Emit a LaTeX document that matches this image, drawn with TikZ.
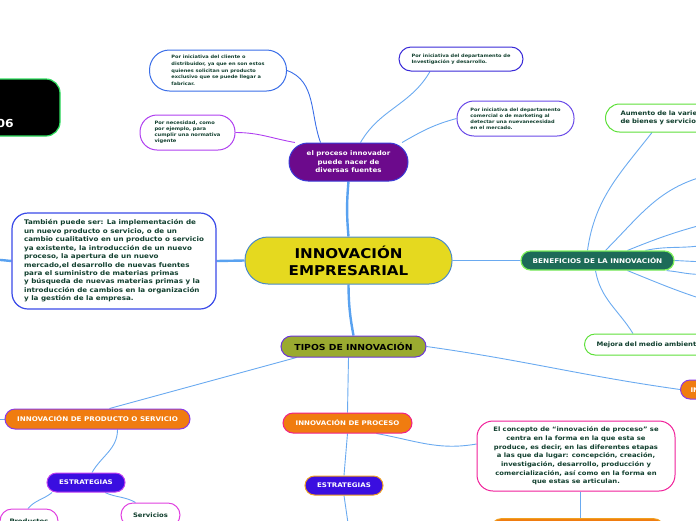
\documentclass[tikz,border=0pt]{standalone}
\usepackage{fontspec}
\setmainfont{DejaVu Sans}[FakeStretch=1.12]
\usetikzlibrary{backgrounds}
\definecolor{tx}{HTML}{12402F}
\definecolor{lnk}{HTML}{6AAAF0}
\definecolor{lnkd}{HTML}{59A2F0}
\definecolor{orng}{HTML}{F07C10}
\definecolor{vio}{HTML}{3A0EE0}
\definecolor{cB}{HTML}{3A6EE8}
\definecolor{cP}{HTML}{B040F0}
\definecolor{cD}{HTML}{3A2AD8}
\definecolor{cM}{HTML}{6A4AE8}
\definecolor{cG}{HTML}{5EE03A}
\definecolor{cPink}{HTML}{F0208A}
\definecolor{cMag}{HTML}{E040E0}
\definecolor{cOr}{HTML}{F0A020}
\definecolor{cBlkB}{HTML}{30E060}
\definecolor{cPur}{HTML}{6C0A8C}
\definecolor{cPurB}{HTML}{3A3AD8}
\definecolor{cYel}{HTML}{E5D91F}
\definecolor{cYelB}{HTML}{4A8AC8}
\definecolor{cLeftB}{HTML}{3A4AE8}
\definecolor{cTeal}{HTML}{1D6B58}
\definecolor{cTealB}{HTML}{7CF05A}
\definecolor{cOlive}{HTML}{9AAA30}
\definecolor{cOliveB}{HTML}{6A34D8}
\definecolor{cOrB}{HTML}{8A3AE8}
\definecolor{cEstB}{HTML}{C040F0}
\definecolor{cConB}{HTML}{F0209A}
\tikzset{
  pill/.style={draw, line width=1pt, inner sep=0pt, align=center},
  bub/.style={pill, fill=white, text=tx, align=left},
  card/.style={draw, rounded corners=16pt, line width=1pt, fill=white, inner sep=0pt, text=tx},
  link/.style={draw=lnk, line width=0.9pt},
  trunk/.style={draw=lnkd, line width=2.4pt},
}
\begin{document}
\begin{tikzpicture}[x=1pt,y=-1pt]
\useasboundingbox (0,0) rectangle (696,520);
\clip (0,0) rectangle (696,520);

% black box
\node[draw=cBlkB, fill=black, rounded corners=14pt, minimum width=160pt, minimum height=57pt, line width=1.2pt] (blk) at (-20,107.5) {};
\node[anchor=base east, text=white, inner sep=0pt, font=\bfseries\fontsize{11}{13}\selectfont] (yr) at (14,127) {06};

% bubbles
\node[bub, draw=cB, rounded corners=20pt, minimum width=137pt, minimum height=41pt, font=\bfseries\fontsize{4.5}{6.8}\selectfont] (b2) at (218,70.5)
  {Por iniciativa del cliente o\\distribuidor, ya que en son estos\\quienes solicitan un producto\\exclusivo que se puede llegar a\\fabricar.};
\node[bub, draw=cP, rounded corners=17pt, minimum width=95pt, minimum height=35pt, font=\bfseries\fontsize{4.6}{6}\selectfont] (b3) at (187.5,132.5)
  {Por necesidad, como\\por ejemplo, para\\cumplir una normativa\\vigente};
\node[bub, draw=cD, rounded corners=12pt, minimum width=124pt, minimum height=24pt, font=\bfseries\fontsize{4.5}{6.3}\selectfont] (b4) at (461,59)
  {Por iniciativa del departamento de\\Investigación y desarrollo.};
\node[bub, draw=cM, rounded corners=17pt, minimum width=117pt, minimum height=35pt, font=\bfseries\fontsize{4.5}{6}\selectfont] (b5) at (515.5,118.5)
  {Por iniciativa del departamento\\comercial o de marketing al\\detectar una nuevanecesidad\\en el mercado.};

\node[pill, fill=cPur, draw=cPurB, rounded corners=19pt, text=white, minimum width=119pt, minimum height=38pt, font=\bfseries\fontsize{6.3}{8.5}\selectfont] (fuentes) at (348.5,162)
  {el proceso innovador\\puede nacer de\\diversas fuentes};

% central
\node[pill, fill=cYel, draw=cYelB, rounded corners=23pt, text=black, minimum width=207pt, minimum height=47pt, font=\bfseries\fontsize{13.5}{17}\selectfont] (central) at (348.5,260.5)
  {INNOVACIÓN\\EMPRESARIAL};

% left card
\node[card, draw=cLeftB, line width=1.2pt, minimum width=204pt, minimum height=96pt, align=left, font=\bfseries\fontsize{6.4}{8.45}\selectfont] (left) at (114,261)
  {También puede ser: La implementación de\\un nuevo producto o servicio, o de un\\cambio cualitativo en un producto o servicio\\ya existente, la introducción de un nuevo\\proceso, la apertura de un nuevo\\mercado,el desarrollo de nuevas fuentes\\para el suministro de materias primas\\y búsqueda de nuevas materias primas y la\\introducción de cambios en la organización\\y la gestión de la empresa.};

% beneficios
\node[pill, fill=cTeal, draw=cTealB, line width=1.2pt, rounded corners=9.5pt, text=white, minimum width=153pt, minimum height=19pt, font=\bfseries\fontsize{6.5}{8}\selectfont] (benef) at (597.5,260.5)
  {BENEFICIOS DE LA INNOVACIÓN};
\node[pill, fill=white, draw=cG, rounded corners=14pt, text=tx, anchor=west, align=left, inner xsep=15pt, text width=150pt, minimum height=28pt, font=\bfseries\fontsize{6.1}{8}\selectfont] (aum) at (605,118)
  {Aumento de la variedad\\de bienes y servicios};
\node[pill, fill=white, draw=cG, rounded corners=10.5pt, text=tx, anchor=west, align=left, inner xsep=12pt, text width=150pt, minimum height=21pt, font=\bfseries\fontsize{6.1}{8}\selectfont] (mej) at (584,344.5)
  {Mejora del medio ambiente};

% tipos
\node[pill, fill=cOlive, draw=cOliveB, rounded corners=10.5pt, text=black, minimum width=145pt, minimum height=21pt, font=\bfseries\fontsize{8.3}{10}\selectfont] (tipos) at (353.5,346.5)
  {TIPOS DE INNOVACIÓN};
\node[pill, fill=orng, draw=cOrB, rounded corners=9.5pt, text=white, anchor=west, align=left, inner xsep=10pt, text width=150pt, minimum height=19pt, font=\bfseries\fontsize{6.4}{8}\selectfont] (orR) at (680,389.5)
  {INNOVACIÓN};

\node[pill, fill=orng, draw=cOrB, rounded corners=10pt, text=white, minimum width=185pt, minimum height=20pt, font=\bfseries\fontsize{6.4}{8}\selectfont] (prod) at (97.5,419)
  {INNOVACIÓN DE PRODUCTO O SERVICIO};
\node[pill, fill=vio, draw=cEstB, rounded corners=9.5pt, text=white, minimum width=78pt, minimum height=19pt, font=\bfseries\fontsize{6.3}{8}\selectfont] (estr1) at (86,482.5)
  {ESTRATEGIAS};
\node[pill, fill=white, draw=cMag, rounded corners=12pt, text=tx, minimum width=58pt, minimum height=24pt, font=\bfseries\fontsize{6.1}{8}\selectfont] (productos) at (29,521)
  {Productos};
\node[pill, fill=white, draw=cMag, rounded corners=12pt, text=tx, minimum width=59pt, minimum height=24pt, font=\bfseries\fontsize{6.1}{8}\selectfont] (servicios) at (150.5,515)
  {Servicios};

\node[pill, fill=orng, draw=cPink, rounded corners=10pt, text=white, minimum width=129pt, minimum height=20pt, font=\bfseries\fontsize{6.3}{8}\selectfont] (proceso) at (347.5,423)
  {INNOVACIÓN DE PROCESO};
\node[pill, fill=vio, draw=cOr, rounded corners=9.5pt, text=white, minimum width=78pt, minimum height=19pt, font=\bfseries\fontsize{6.3}{8}\selectfont] (estr2) at (344,485.5)
  {ESTRATEGIAS};
\node[card, draw=cConB, minimum width=198pt, minimum height=70pt, align=center, font=\bfseries\fontsize{6.1}{8.7}\selectfont] (concept) at (576,456)
  {El concepto de “innovación de proceso” se\\centra en la forma en la que esta se\\produce, es decir, en las diferentes etapas\\a las que da lugar: concepción, creación,\\investigación, desarrollo, producción y\\comercialización, así como en la forma en\\que estas se articulan.};
\node[pill, fill=orng, draw=cOr, rounded corners=12pt, minimum width=175pt, minimum height=25pt] (botO) at (577.5,531) {};

% free ends
\coordinate (offL) at (-10,259);
\coordinate (offL2) at (-10,419);
\coordinate (down1) at (349,530);
\coordinate (r1) at (705,176);
\coordinate (r2) at (705,224);
\coordinate (r3) at (705,245);
\coordinate (r4) at (705,262);
\coordinate (r5) at (705,274);
\coordinate (r6) at (705,300);

\begin{scope}[on background layer]
\clip (0,0) rectangle (696,520);
\draw[trunk] (central.north) to[bend left=5] (fuentes.south);
\draw[link, draw=cB] (b2.east) to[out=-20,in=110] ([xshift=-28pt]fuentes.north);
\draw[link, draw=cP] (b3.east) to[out=0,in=170] (fuentes.160);
\draw[link] ([xshift=-31pt]b4.south) to[out=-120,in=60] ([xshift=12pt]fuentes.north);
\draw[link] (b5.west) to[out=195,in=30] (fuentes.20);
\draw[trunk] (central.west) -- (left.east);
\draw[trunk] (left.west) -- (offL);
\draw[link] (central.east) to[out=0,in=180] (benef.west);
\draw[trunk] (central.south) to[bend right=5] (tipos.north);
\draw[link] ([xshift=-57pt]tipos.south) -- ([xshift=12pt]prod.north);
\draw[link] ([xshift=-5pt]tipos.south) -- (proceso.north);
\draw[link] (tipos.east) to[out=-8,in=172] (orR.west);
\draw[link] (prod.west) -- (offL2);
\draw[link] ([xshift=20pt]prod.south) to[out=-90,in=60] ([xshift=6pt]estr1.north);
\draw[link] ([xshift=-34pt]estr1.south) to[out=-140,in=50] ([xshift=-1pt]productos.north);
\draw[link] ([xshift=19pt]estr1.south) to[out=-25,in=150] ([xshift=-15pt]servicios.north);
\draw[link] (proceso.south) -- (estr2.north);
\draw[link] (proceso.-20) to[out=-10,in=190] ([yshift=12pt]concept.west);
\draw[link] (estr2.south) -- (down1);
\draw[link] ([xshift=4pt]concept.south) -- ([xshift=2.5pt]botO.north);
% beneficios branches
\draw[link] ([xshift=-10pt]benef.north) to[out=82,in=232] ([xshift=47pt]aum.south west);
\draw[link] ([xshift=-2pt]benef.south) to[out=-80,in=122] ([xshift=49pt]mej.north west);
\draw[link] ([xshift=8pt]benef.north) to[out=45,in=195] (r1);
\draw[link] ([xshift=30pt]benef.north) to[out=22,in=195] (r2);
\draw[link] ([xshift=48pt]benef.north) to[out=12,in=190] (r3);
\draw[link] (benef.east) -- (r4);
\draw[link] ([xshift=-8pt]benef.south east) to[out=-5,in=185] (r5);
\draw[link] ([xshift=30pt]benef.south) to[out=-22,in=162] (r6);
\end{scope}
\end{tikzpicture}
\end{document}
